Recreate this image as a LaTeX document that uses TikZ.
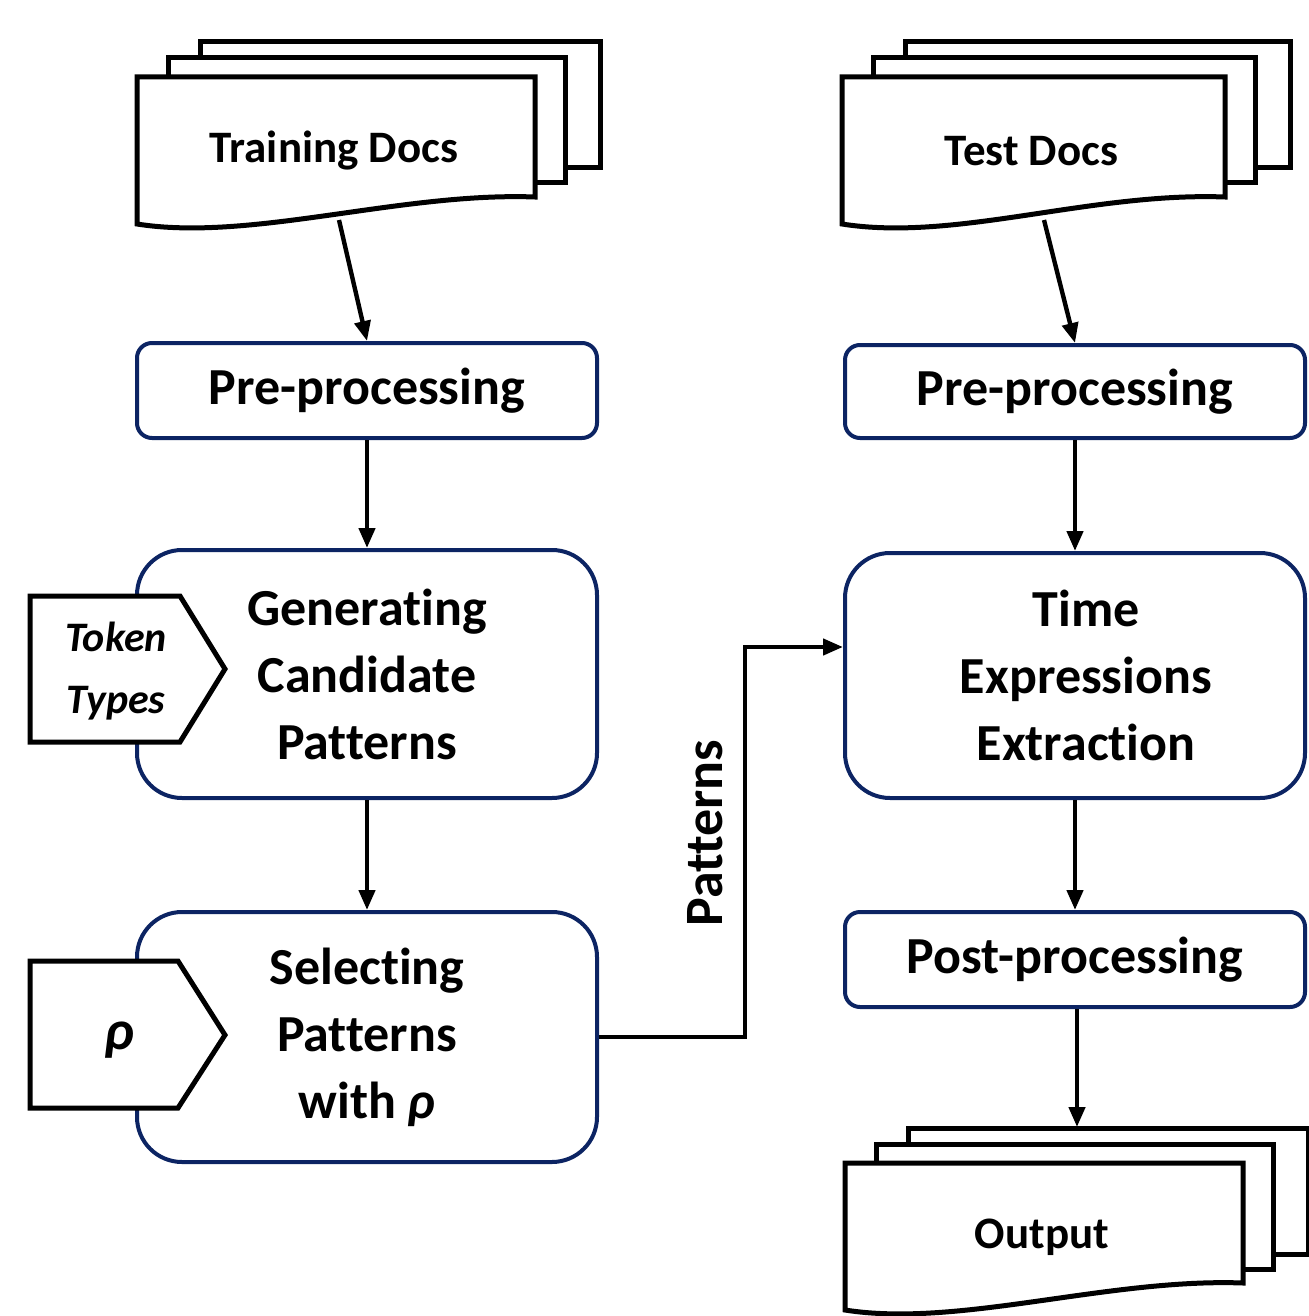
\documentclass[tikz,border=0pt]{standalone}
\usepackage{fontspec}
\setmainfont{Carlito}[Ligatures=NoCommon]
\usetikzlibrary{arrows.meta,calc}
\definecolor{navy}{RGB}{12,36,99}
\newcommand\DocStack[5]{%
  \draw[docline] ({#1+63},{#2-35}) rectangle ({#1+#3+65},{#2+91});
  \draw[docline] ({#1+31},{#2-19}) rectangle ({#1+#3+30},{#2+106});
  \draw[docline] (#1,#2) -- ({#1+#3},#2) -- ({#1+#3},{#2+120})
     .. controls ({#1+#3-135},{#2+115}) and ({#1+113},{#2+165}) .. (#1,{#2+147}) -- cycle;
  \node[doctext] (#4) at ({#1+#3/2-2},{#2+74}) {#5};
  \coordinate (#4-b) at ({#1+202},{#2+143});
}
\begin{document}
\begin{tikzpicture}[x=0.5pt,y=-0.5pt,
  docline/.style={line width=2.5pt,draw=black,fill=white},
  doctext/.style={font=\fontsize{22.5}{27}\selectfont\bfseries},
  box/.style={draw=navy,line width=2pt,fill=white,align=center,
    font=\fontsize{26}{33.5}\selectfont\bfseries,minimum width=230pt,inner sep=0pt},
  smallbox/.style={box,minimum height=47.5pt,rounded corners=7.5pt},
  bigbox/.style={box,minimum height=124pt,rounded corners=22.5pt},
  tag/.style={line width=2.5pt,draw=black,fill=white},
  tagtext/.style={align=center,font=\fontsize{21}{31}\selectfont\bfseries\itshape},
  arr/.style={line width=2.2pt,-{Triangle[length=10pt,width=8pt]}},
  conn/.style={line width=2.2pt}]
\useasboundingbox (0,0) rectangle (1308,1316);

% document stacks
\DocStack{137}{77}{398}{train}{Training Docs}
\DocStack{842}{77}{383}{test}{Test Docs}
\DocStack{845}{1163}{398}{out}{Output}

% process boxes
\node[smallbox] (pre1) at (367,390.5) {Pre-processing};
\node[bigbox] (gen) at (367,674) {Generating\\Candidate\\Patterns};
\node[bigbox,minimum height=125pt] (sel) at (367,1037) {Selecting\\Patterns\\with \textit{ρ}};
\node[smallbox,minimum height=46.5pt] (pre2) at (1075,391.5) {Pre-processing};
\node[bigbox,minimum height=122.5pt] (time) at (1075,675.5) {};
\node[align=center,font=\fontsize{26}{33.5}\selectfont\bfseries,inner sep=0pt] (timetext) at (1086,675.5) {Time\\Expressions\\Extraction};
\node[smallbox] (post) at (1075,959.5) {Post-processing};

% input tags
\draw[tag] (30,596) -- (180,596) -- (225,669) -- (180,742) -- (30,742) -- cycle;
\node[tagtext] (tok) at (116,671) {Token\\Types};
\draw[tag] (30,961) -- (178,961) -- (225,1035) -- (178,1108) -- (30,1108) -- cycle;
\node[tagtext,font=\fontsize{28}{31}\selectfont\bfseries\itshape] (rho) at (119,1040) {ρ};

% connectors
\draw[arr] (train-b) -- (pre1.north);
\draw[arr] (pre1) -- (gen);
\draw[arr] (gen) -- (sel);
\draw[arr] (test-b) -- (pre2.north);
\draw[arr] (pre2) -- (time);
\draw[arr] (time) -- (post);
\coordinate (outtop) at (1077,1127);
\draw[arr] (post.south -| outtop) -- (outtop);
\coordinate (knee) at (745,647);
\coordinate (pin) at (843,647);
\draw[arr] (sel.east) -- (sel.east -| knee) |- (pin);
\node[rotate=90,font=\fontsize{27}{30}\selectfont\bfseries] (plabel) at (705,833) {Patterns};
\end{tikzpicture}
\end{document}
